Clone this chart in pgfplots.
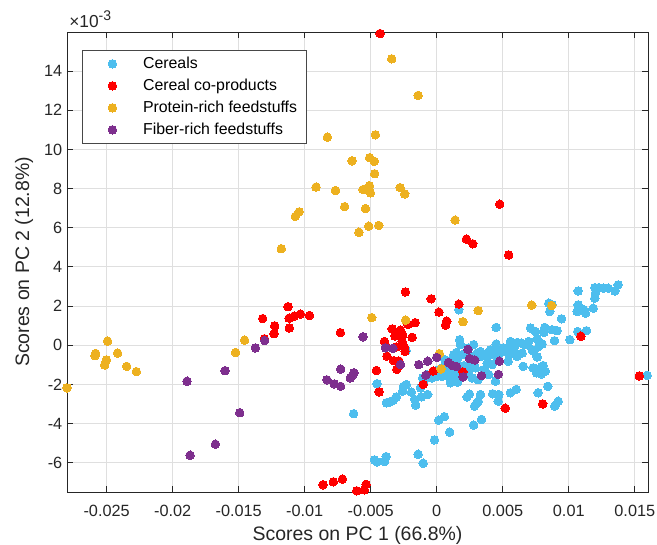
\documentclass[border=0pt]{standalone}
\usepackage{fontspec}
\setmainfont{Liberation Sans}
\usepackage{pgfplots}
\pgfplotsset{compat=1.18}
\definecolor{cblue}{RGB}{77,190,238}
\definecolor{cred}{RGB}{255,0,0}
\definecolor{cyel}{RGB}{237,177,32}
\definecolor{cpur}{RGB}{126,47,142}
\definecolor{axgray}{RGB}{38,38,38}
\definecolor{gridgray}{RGB}{223,223,223}
\pgfplotsset{
  sc/.style={only marks, mark=*, mark size=3.2pt, color=#1,
    mark options={fill=#1, draw=#1, line width=0pt},
    legend image code/.code={\path[draw=none,fill=none] (0pt,-8.25pt) (35pt,8.25pt); \draw[##1] plot coordinates {(17.5pt,0pt)};}}
}
\begin{document}
\begin{tikzpicture}
\begin{axis}[
  at={(0,0)}, anchor=south west,
  scale only axis, width=435.75pt, height=345pt,
  xmin=-0.028, xmax=0.016, ymin=-7.5, ymax=16,
  xtick={-0.025,-0.02,-0.015,-0.01,-0.005,0,0.005,0.01,0.015},
  ytick={-6,-4,-2,0,2,4,6,8,10,12,14},
  scaled x ticks=false, scaled y ticks=false,
  xticklabel style={/pgf/number format/fixed, /pgf/number format/precision=3, yshift=-6pt},
  /pgf/number format/assume math mode=true,
  tick align=inside, major tick length=4.5pt,
  grid=major, major grid style={gridgray, line width=0.6pt},
  axis line style={axgray, line width=0.6pt},
  tick style={axgray, line width=0.6pt},
  ticklabel style={font=\fontsize{12.2}{14}\selectfont, text=axgray},
  xlabel={Scores on PC 1 (66.8\%)},
  ylabel={Scores on PC 2 (12.8\%)},
  label style={font=\fontsize{14.6}{17}\selectfont, text=axgray},
  xlabel style={at={(axis description cs:0.5,0)}, anchor=base, yshift=-36pt},
  ylabel style={at={(axis description cs:-0.0654,0.5)}, anchor=base},
  legend style={at={(0.0258,0.961)}, anchor=north west, draw=axgray!85, line width=0.6pt,
    fill=white, font=\fontsize{11.9}{14}\selectfont, inner xsep=5pt, inner ysep=1.9pt,
    column sep=3.5pt, row sep=0pt},
  legend cell align=left,
]
\addplot[sc=cblue] table {
x y
0.01071 2.77
0.01197 2.94
0.01227 2.94
0.01265 2.91
0.01299 2.91
0.01374 3.08
0.01349 2.77
0.01202 2.66
0.01197 2.40
0.01071 2.06
0.01089 1.89
0.01114 1.81
0.01127 1.64
0.01185 1.89
0.01063 1.72
0.00849 2.15
0.00874 2.06
0.00856 1.72
0.00945 1.35
0.0071 0.88
0.00748 0.70
0.00818 0.91
0.00811 0.65
0.00874 0.79
0.00912 0.74
0.01008 0.28
0.01068 0.70
0.01134 0.74
0.00892 0.23
0.00798 0.06
0.00761 0.33
0.00697 0.19
0.00558 0.19
0.00609 0.14
0.00639 0.11
0.00591 -0.06
0.0045 0.91
0.0045 0.06
0.00508 -0.14
0.00538 -0.23
0.00571 -0.40
0.00609 -0.57
0.00356 -0.45
0.00407 -0.45
0.00445 -0.45
0.00483 -0.37
0.00306 -0.40
0.00339 -0.57
0.00263 -0.57
0.0028 -0.74
0.0018 0.03
0.00167 1.81
0.00134 -0.52
0.00155 -0.74
0.00109 -0.77
0.00174 -1.08
0.00205 -1.04
0.00255 -1.08
0.00293 -1.16
0.00104 -1.92
0.00124 -1.84
0.00159 -1.89
0.00314 -1.76
0.00369 -1.33
0.00445 -1.84
0.00424 -2.48
0.0047 -2.52
0.00465 -2.86
0.00558 -2.43
0.00602 -2.26
0.00655 -1.08
0.0073 -1.16
0.00755 -1.41
0.00793 -1.47
0.00806 -1.04
0.00768 -2.43
0.00841 -2.10
0.00894 -3.11
0.0092 -2.86
0.0023 -2.64
0.00248 -2.50
0.00331 -2.52
0.00314 -2.86
0.00301 -2.98
0.00286 -3.11
0.00339 -3.79
0.0028 -4.08
0.00015 -3.83
0.00058 -3.65
0.00098 -4.44
-0.00017 -4.84
-0.00141 -5.57
-0.00103 -6.03
-0.00472 -5.86
-0.00452 -5.96
-0.00394 -5.94
-0.00383 -5.69
-0.00629 -3.50
-0.00452 -1.97
-0.00381 -2.94
-0.00358 -2.91
-0.0033 -2.82
-0.00305 -2.64
-0.00258 -2.35
-0.0025 -2.10
-0.0023 -2.01
-0.00192 -2.40
-0.00167 -2.77
-0.00159 -3.06
-0.00116 -2.64
-0.00123 -2.18
-0.00068 -2.52
-0.00106 -1.67
-0.00098 -1.84
-0.00073 -1.50
-0.00035 -1.67
0.0 -1.59
0.00015 -1.25
0.00041 -1.16
0.00071 -1.25
0.00098 -1.41
0.00041 -1.59
0.00083 -1.59
0.00155 -1.50
0.00192 -1.59
0.0018 -1.67
0.0023 -1.33
-0.00232 -0.26
0.00452 -0.23
0.00458 -0.65
0.00672 0.03
0.00723 -0.23
0.00773 -0.06
0.00495 -0.23
0.0042 -0.32
0.00394 -0.48
0.00545 -0.48
0.00596 -0.43
0.00647 -0.40
0.00541 -0.82
0.00735 -0.32
0.00761 -0.60
0.00793 -1.11
0.00823 -1.33
0.00192 -0.48
0.0023 -0.53
0.00382 -0.91
0.0042 -0.99
0.00356 -1.25
0.00242 -1.41
0.00268 -1.67
0.00394 -1.50
0.01594 -1.54
0.00066 -0.82
0.00104 -1.16
0.00061 -0.74
0.00129 -0.48
0.00149 -0.37
0.00174 0.28
0.00242 -0.14
0.0028 0.03
0.00331 -0.32
0.00369 -0.45
0.00407 -0.23
};
\addlegendentry{Cereals}
\addplot[sc=cred] table {
x y
-0.00429 15.92
0.00477 7.20
0.00225 5.42
0.00273 5.18
0.00545 4.61
-0.01126 1.97
-0.01318 1.36
-0.01227 0.99
-0.01232 0.59
-0.01305 0.33
-0.01118 1.38
-0.01078 1.49
-0.01033 1.59
-0.00964 1.52
-0.01116 0.88
-0.0073 0.64
-0.00861 -7.13
-0.00783 -6.98
-0.00714 -6.84
-0.00606 -7.44
-0.00548 -7.39
-0.00535 -7.11
-0.00237 2.72
-0.00042 2.37
0.00017 1.69
0.00076 1.23
0.00067 1.03
-0.00338 0.83
-0.00275 0.77
-0.00317 0.47
-0.00258 0.52
-0.00218 1.07
-0.00163 1.15
-0.00396 0.19
-0.00385 -0.05
-0.00262 0.19
-0.00248 -0.08
-0.00308 -0.09
-0.0024 -0.31
-0.00186 0.40
-0.00377 -0.56
-0.00326 -0.79
-0.00286 -0.81
-0.00302 -1.23
-0.00457 -1.29
-0.00027 -1.32
0.00168 2.10
-0.00437 -2.39
-0.00102 -2.00
0.00198 -1.36
0.00519 -3.22
0.00803 -3.00
0.01092 0.46
0.01534 -1.57
};
\addlegendentry{Cereal co-products}
\addplot[sc=cyel] table {
x y
-0.028 -2.18
-0.02493 0.21
-0.02583 -0.42
-0.02588 -0.53
-0.02502 -0.75
-0.02515 -1.01
-0.02417 -0.40
-0.02348 -1.08
-0.02275 -1.35
-0.01455 0.26
-0.01523 -0.37
-0.00828 10.63
-0.00641 9.42
-0.00914 8.08
-0.00767 7.90
-0.00697 7.08
-0.01042 6.81
-0.01071 6.58
-0.00589 5.77
-0.01177 4.93
-0.00464 10.75
-0.00508 9.58
-0.00472 9.39
-0.0047 8.76
-0.00558 7.95
-0.00535 8.00
-0.0051 8.15
-0.00502 7.78
-0.0054 6.98
-0.00277 8.05
-0.00242 7.73
-0.00515 6.08
-0.00439 6.12
-0.00341 14.63
-0.00141 12.76
0.00139 6.39
-0.00492 1.41
-0.00235 1.28
0.0002 -0.43
0.00033 -1.21
0.00314 1.77
0.00198 1.20
0.0072 2.05
0.00871 2.03
};
\addlegendentry{Protein-rich feedstuffs}
\addplot[sc=cpur] table {
x y
-0.01303 0.24
-0.01373 -0.14
-0.01603 -1.30
-0.01891 -1.84
-0.01492 -3.45
-0.01676 -5.06
-0.01868 -5.62
-0.00727 -1.22
-0.00832 -1.77
-0.00775 -1.98
-0.00728 -2.10
-0.00654 -1.67
-0.00639 -1.55
-0.00627 -1.41
-0.00558 0.43
-0.00389 -0.13
-0.00333 -0.16
-0.00275 -0.99
-0.00136 -0.99
-0.00068 -0.82
-0.00082 -1.53
0 -0.62
0.00089 -0.88
0.00119 -1.04
0.00149 -1.09
0.002 -1.62
0.00236 -0.21
0.00249 -0.68
0.00289 -0.76
0.00339 -1.56
0.00475 -0.82
0.00467 -1.49
};
\addlegendentry{Fiber-rich feedstuffs}
\end{axis}
\node[anchor=base west, inner sep=0pt, font=\fontsize{13}{15}\selectfont, text=axgray] at (1.5pt,348pt) {×10\raisebox{0.42em}{\fontsize{10.5}{12}\selectfont -3}};
\pgfresetboundingbox
\path[use as bounding box] (-50.25pt,-39pt) rectangle (442.5pt,369pt);
\end{tikzpicture}
\end{document}
